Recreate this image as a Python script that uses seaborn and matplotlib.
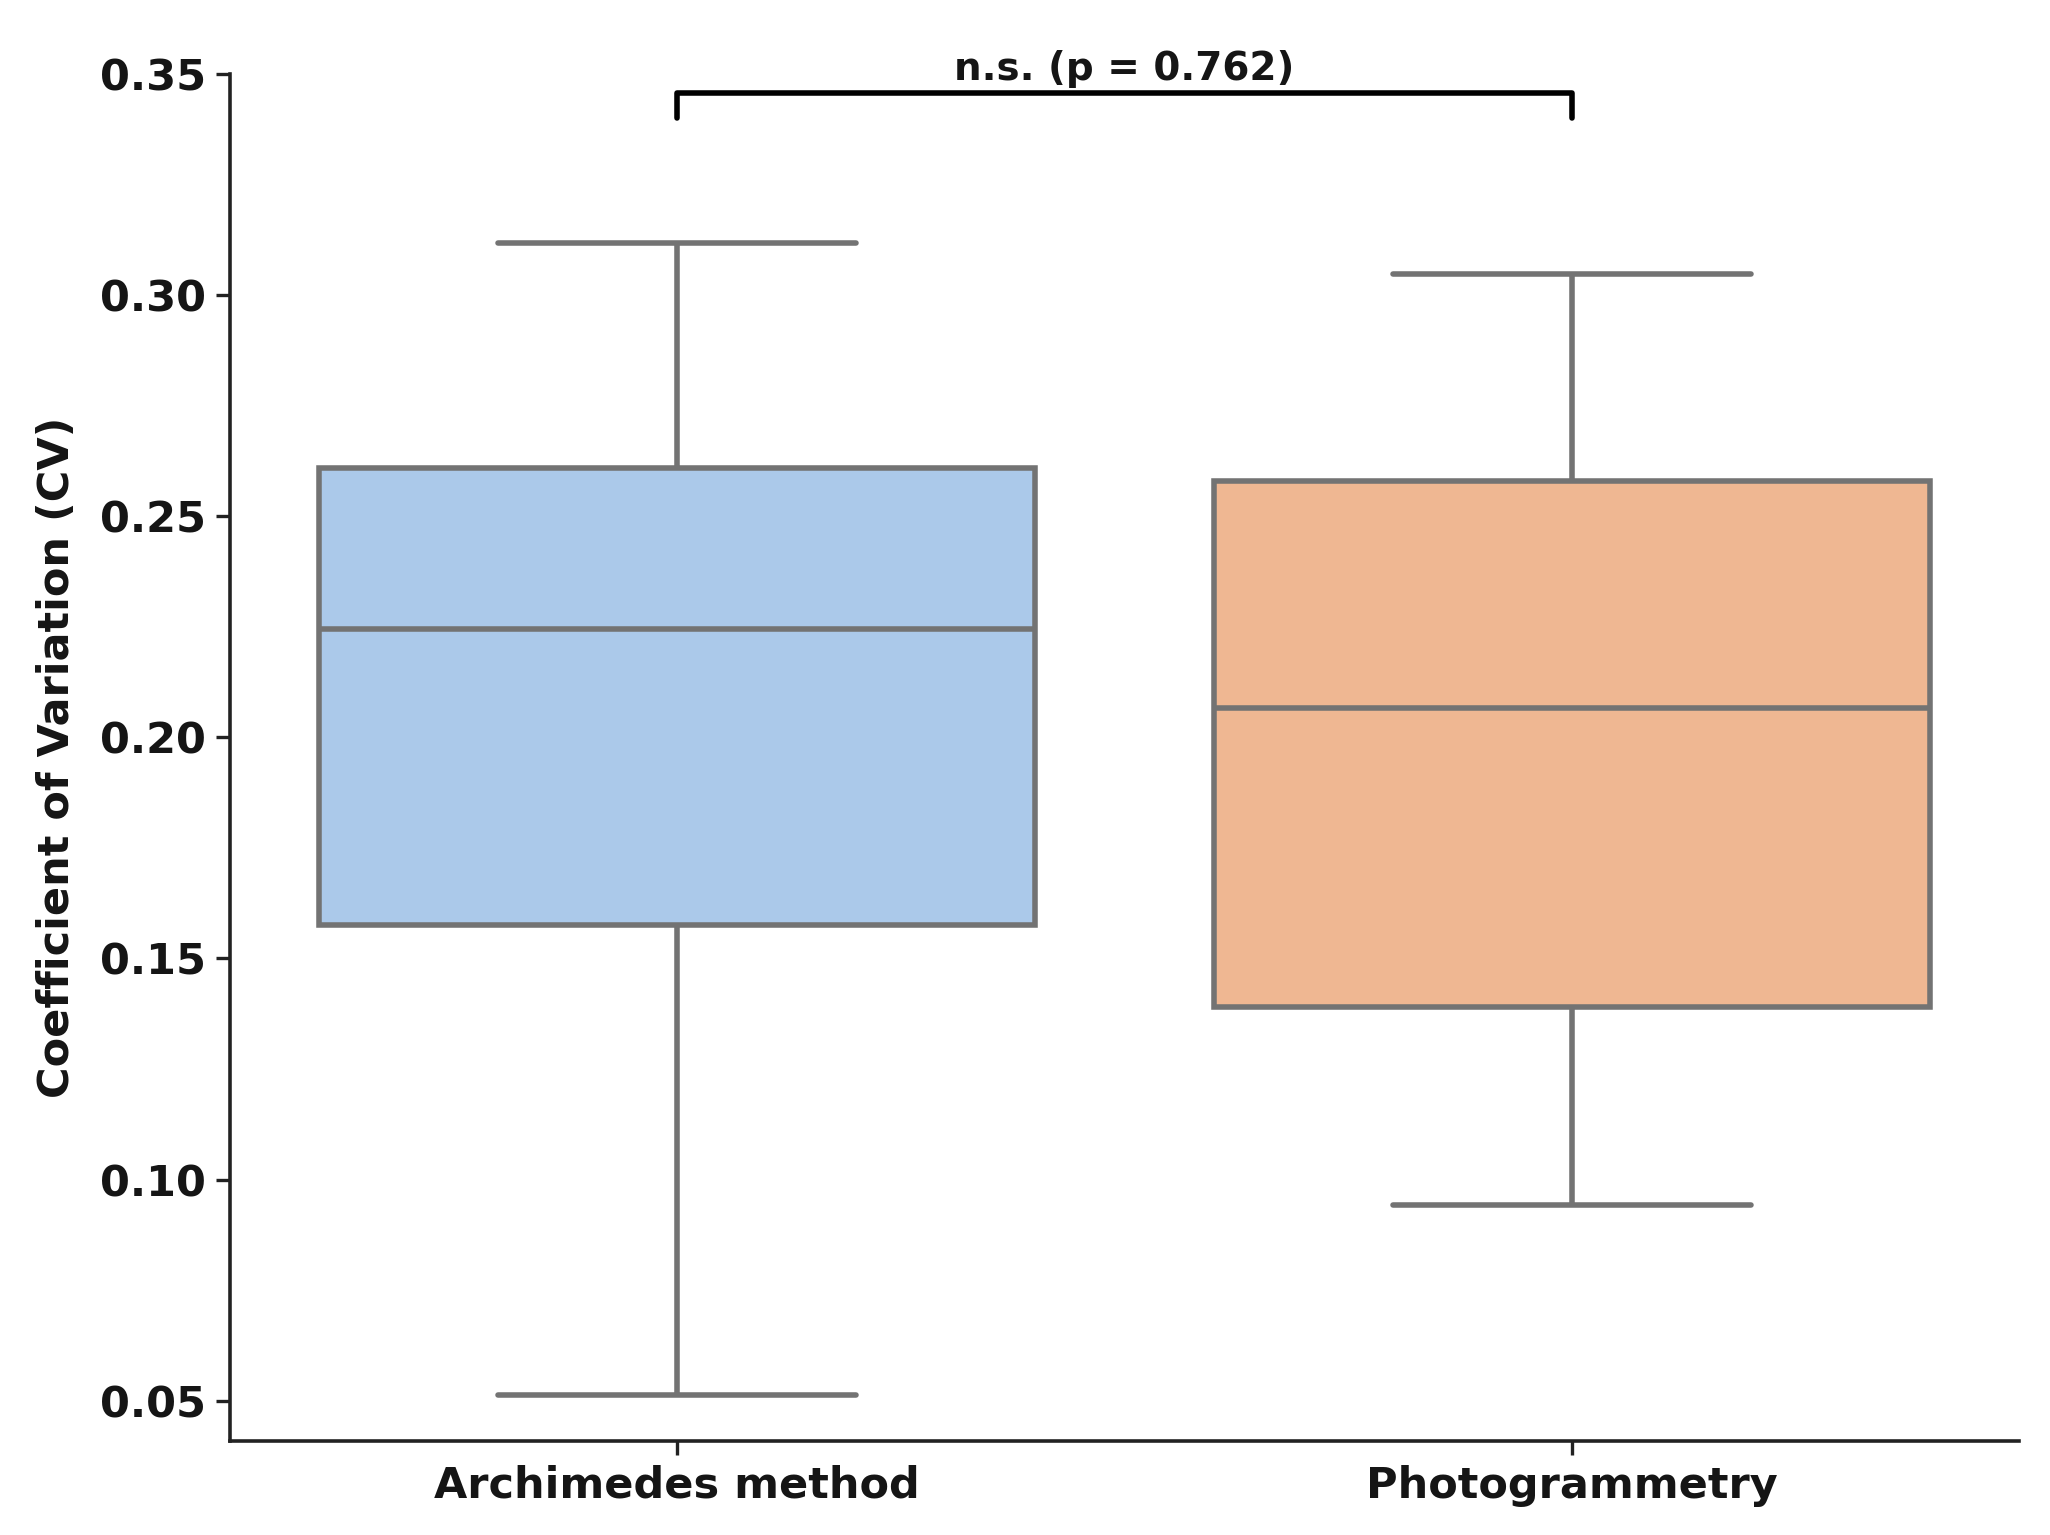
import seaborn as sns
import numpy as np
import pandas as pd
import matplotlib.pyplot as plt

# five-number summaries (min, q1, median, q3, max)
methods = ['Archimedes method', 'Photogrammetry']
archimedes_cv = [0.0512, 0.1575, 0.2245, 0.2608, 0.3117]
photogrammetry_cv = [0.0943, 0.1389, 0.2065, 0.2579, 0.3048]
p_value = 0.762

df = pd.DataFrame({
    'Method': [methods[0]] * len(archimedes_cv) + [methods[1]] * len(photogrammetry_cv),
    'CV': archimedes_cv + photogrammetry_cv,
})

sns.set_theme(style='ticks')
plt.rcParams['font.family'] = ['DejaVu Sans']
txt_col = '#151515'

fig, ax = plt.subplots(figsize=(10.25, 7.675), dpi=200)
fig.subplots_adjust(left=0.112, right=0.985, bottom=0.061, top=0.952)

sns.boxplot(data=df, x='Method', y='CV', hue='Method', palette='pastel',
            width=0.8, linewidth=2, ax=ax, legend=False)

ax.set_ylim(0.0408, 0.35)
ax.set_xlim(-0.5, 1.5)
ax.set_yticks([0.05, 0.10, 0.15, 0.20, 0.25, 0.30, 0.35])
ax.set_yticklabels(['%.2f' % t for t in ax.get_yticks()])
ax.set_xlabel('')
ax.set_ylabel('Coefficient of Variation (CV)', fontsize=15.5, fontweight='bold',
              color=txt_col, labelpad=8)
for lab in ax.get_xticklabels() + ax.get_yticklabels():
    lab.set_fontsize(15.5)
    lab.set_fontweight('bold')
    lab.set_color(txt_col)
ax.tick_params(length=5, width=1.2, color='#222222')
for s in ['left', 'bottom']:
    ax.spines[s].set_linewidth(1.3)
    ax.spines[s].set_color('#222222')
sns.despine(ax=ax)

# significance bracket
y_br, h = 0.3456, 0.0056
ax.plot([0, 0, 1, 1], [y_br - h, y_br, y_br, y_br - h], color='black', lw=2, clip_on=False)
ax.text(0.5, y_br + 0.0012, 'n.s. (p = %.3f)' % p_value, ha='center', va='bottom',
        fontsize=14, fontweight='bold', color=txt_col)

fig.savefig('out.png', dpi=200)
